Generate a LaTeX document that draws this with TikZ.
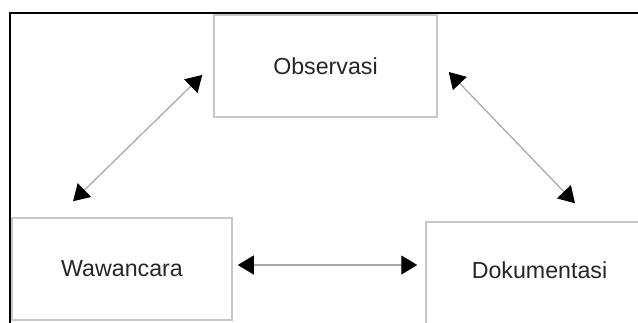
\documentclass[tikz,border=0pt]{standalone}
\usepackage{fontspec}
\setmainfont{Liberation Sans}
\usepackage{tikz}
\usetikzlibrary{arrows.meta}
\tikzstyle{box} = [rectangle, draw=black!22, line width=0.75pt, fill=white, text centered,
    minimum height=51pt, font=\fontsize{11.6}{14}\selectfont, text=black!85]
\tikzstyle{line} = [draw=black!35, line width=0.6pt,
    {Triangle[length=8pt,width=9.5pt,black]}-{Triangle[length=8pt,width=9.5pt,black]}]

\begin{document}
\begin{tikzpicture}[x=0.5pt,y=-0.5pt]
      \useasboundingbox (0,0) rectangle (638,322);
      \clip (0,0) rectangle (638,322);
      \fill [white] (0,0) rectangle (638,322);
      % frame
      \draw [line width=1pt] (10,400) -- (10,13) -- (700,13);

      \node [box, minimum width=111.5pt] (obs) at (325.5,66) {Observasi};
      \node [box, minimum width=110pt] (waw) at (122,269) {Wawancara};
      \node [box, minimum width=113.5pt, text depth=3pt] (dok) at (539.5,273) {Dokumentasi};


      \path [line] ([shift={(-49,-16)}]waw.north) -- ([shift={(-11,9)}]obs.west);
      \path [line] ([shift={(11,6)}]obs.east) -- ([shift={(35.5,-18)}]dok.north);
      \path [line] ([shift={(5,-4)}]waw.east) -- ([shift={(-8,-8)}]dok.west);

\end{tikzpicture}
\end{document}
